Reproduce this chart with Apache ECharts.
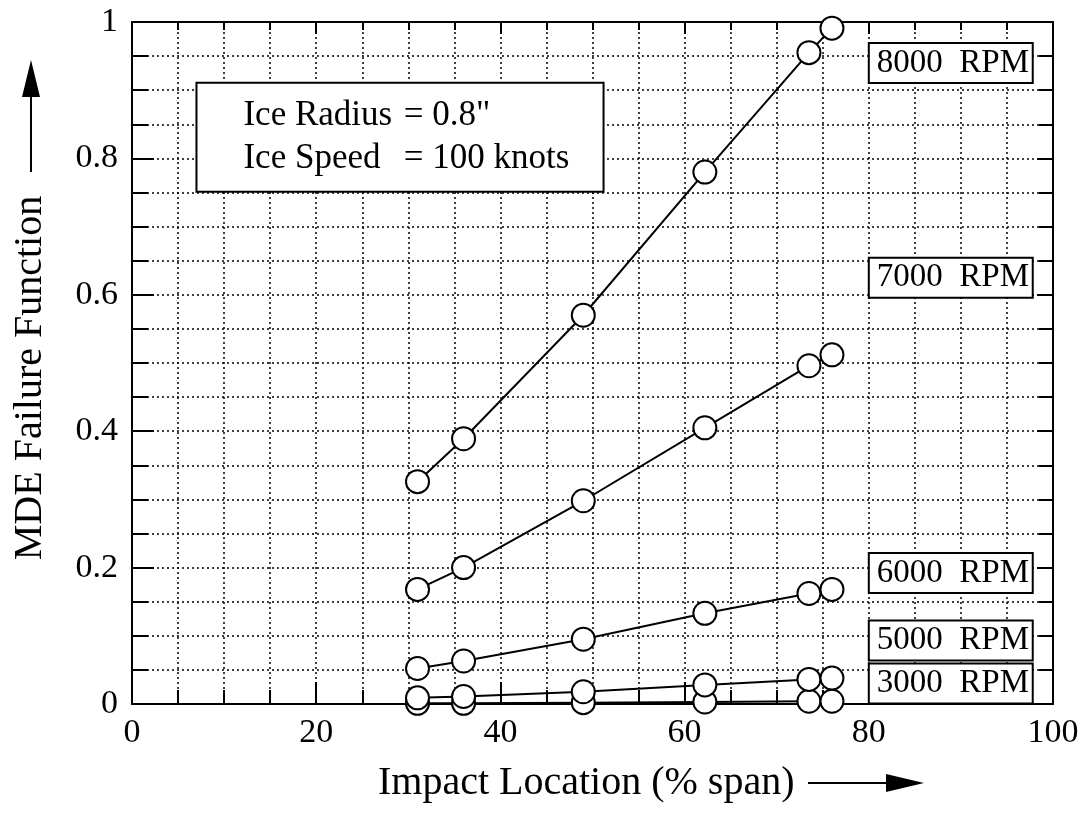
<!DOCTYPE html>
<html>
<head>
<meta charset="utf-8">
<script src="https://cdn.jsdelivr.net/npm/echarts@6/dist/echarts.min.js"></script>
<style>html,body{margin:0;background:#fff}#main{width:1091px;height:819px}</style>
</head>
<body>
<div id="main"></div>
<script>
// 冲击位置 (% span)
var spanPos = [31, 36, 49, 62.2, 73.5, 76];
// MDE failure function, 各转速
var rpm3000 = [0.001, 0.001, 0.002, 0.003, 0.004, 0.004];
var rpm5000 = [0.009, 0.011, 0.018, 0.028, 0.036, 0.038];
var rpm6000 = [0.052, 0.063, 0.095, 0.133, 0.162, 0.168];
var rpm7000 = [0.168, 0.200, 0.298, 0.405, 0.496, 0.512];
var rpm8000 = [0.326, 0.389, 0.570, 0.780, 0.955, 0.991];
var seriesNames = ['3000 RPM', '5000 RPM', '6000 RPM', '7000 RPM', '8000 RPM'];
var seriesData = [rpm3000, rpm5000, rpm6000, rpm7000, rpm8000];
// 标签框位置(数据坐标)
var labelY = [0.030, 0.093, 0.192, 0.625, 0.940];
var infoLines = [['Ice Radius', '= 0.8"'], ['Ice Speed', '= 100 knots']];

var serif = '"Liberation Serif", "DejaVu Serif", serif';
var black = '#000';

function pairs(ys) {
    var out = [];
    for (var i = 0; i < ys.length; i++) out.push([spanPos[i], ys[i]]);
    return out;
}

var myChart = echarts.init(document.getElementById('main'));

var seriesArr = [];
for (var i = 0; i < seriesData.length; i++) {
    seriesArr.push({
        name: seriesNames[i],
        type: 'line',
        data: pairs(seriesData[i]),
        smooth: false,
        clip: false,
        symbol: 'circle',
        symbolSize: 23,
        lineStyle: {color: black, width: 2},
        itemStyle: {color: '#fff', borderColor: black, borderWidth: 2},
        z: 5
    });
}

var gridLine = {lineStyle: {color: black, width: 1.5, type: [2, 3]}};

function axisBase(pos, withLabel, tickLen, minorLen) {
    return {
        position: pos,
        axisLine: {show: true, onZero: false, lineStyle: {color: black, width: 2}},
        axisTick: {show: true, inside: true, length: tickLen, lineStyle: {color: black, width: 2}},
        minorTick: {show: true, splitNumber: 4, length: minorLen, lineStyle: {color: black, width: 2}},
        axisLabel: {show: withLabel, color: black, fontFamily: serif, fontSize: 34, margin: 12},
        splitLine: {show: withLabel, lineStyle: gridLine.lineStyle},
        minorSplitLine: {show: withLabel, lineStyle: gridLine.lineStyle}
    };
}

var xBottom = Object.assign({type: 'value', min: 0, max: 100, interval: 20}, axisBase('bottom', true, 22, 14));
var xTop = Object.assign({type: 'value', min: 0, max: 100, interval: 20}, axisBase('top', false, 12, 8));
var yLeft = Object.assign({type: 'value', min: 0, max: 1, interval: 0.2}, axisBase('left', true, 22, 16));
var yRight = Object.assign({type: 'value', min: 0, max: 1, interval: 0.2}, axisBase('right', false, 16, 14));
yLeft.axisLabel.margin = 14;

var option = {
    animation: false,
    backgroundColor: '#fff',
    grid: {left: 132, right: 38, top: 22, bottom: 115},
    xAxis: [xBottom, xTop],
    yAxis: [yLeft, yRight],
    series: seriesArr
};
myChart.setOption(option);

// 标注框
function px(x, y) {
    return myChart.convertToPixel({gridIndex: 0}, [x, y]);
}
var graphics = [];
for (var k = 0; k < seriesNames.length; k++) {
    var p0 = px(80, labelY[k]);
    var p1 = px(97.8, labelY[k]);
    graphics.push({
        type: 'rect', z: 20,
        shape: {x: p0[0], y: p0[1] - 20, width: p1[0] - p0[0], height: 40},
        style: {fill: '#fff', stroke: black, lineWidth: 2}
    });
    graphics.push({
        type: 'text', z: 21, x: p0[0] + 8, y: p0[1],
        style: {text: seriesNames[k].replace(' ', '  '), font: '33px ' + serif, fill: black, verticalAlign: 'middle'}
    });
}
var b0 = px(7, 0.911), b1 = px(51.2, 0.751);
graphics.push({
    type: 'rect', z: 20,
    shape: {x: b0[0], y: b0[1], width: b1[0] - b0[0], height: b1[1] - b0[1]},
    style: {fill: '#fff', stroke: black, lineWidth: 2}
});
var lineY = [0.862, 0.800];
for (var m = 0; m < infoLines.length; m++) {
    var a = px(12.1, lineY[m]), c = px(29.5, lineY[m]);
    graphics.push({type: 'text', z: 21, x: a[0], y: a[1],
        style: {text: infoLines[m][0], font: '35px ' + serif, fill: black, verticalAlign: 'middle'}});
    graphics.push({type: 'text', z: 21, x: c[0], y: c[1],
        style: {text: infoLines[m][1], font: '35px ' + serif, fill: black, verticalAlign: 'middle'}});
}
// 坐标轴标题与箭头
graphics.push({type: 'text', z: 21, x: 378, y: 783,
    style: {text: 'Impact Location (% span)', font: '40px ' + serif, fill: black, verticalAlign: 'middle'}});
graphics.push({type: 'line', z: 21, shape: {x1: 808, y1: 783, x2: 900, y2: 783}, style: {stroke: black, lineWidth: 2}});
graphics.push({type: 'polygon', z: 21, shape: {points: [[924, 783], [886, 774], [886, 792]]}, style: {fill: black}});
graphics.push({type: 'text', z: 21, x: 30, y: 378, rotation: Math.PI / 2,
    style: {text: 'MDE Failure Function', font: '40px ' + serif, fill: black, align: 'center', verticalAlign: 'middle'}});
graphics.push({type: 'line', z: 21, shape: {x1: 31, y1: 172, x2: 31, y2: 85}, style: {stroke: black, lineWidth: 2}});
graphics.push({type: 'polygon', z: 21, shape: {points: [[31, 60], [22, 97], [40, 97]]}, style: {fill: black}});

myChart.setOption({graphic: graphics});
</script>
</body>
</html>
